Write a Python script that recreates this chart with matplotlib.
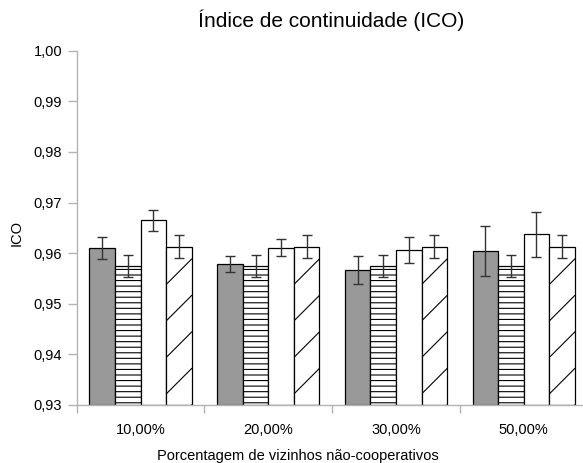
import numpy as np
import matplotlib
matplotlib.use("Agg")
import matplotlib.pyplot as plt

plt.rcParams['font.family'] = ['Liberation Sans', 'DejaVu Sans']
plt.rcParams['hatch.linewidth'] = 0.8

### data

grupos = ["10,00%", "20,00%", "30,00%", "50,00%"]

serie_cinza = [0.9610, 0.9578, 0.9567, 0.9604]
erro_cinza = [0.0022, 0.0016, 0.0028, 0.0050]

serie_horiz = [0.9575, 0.9575, 0.9575, 0.9575]
erro_horiz = [0.0022, 0.0022, 0.0022, 0.0022]

serie_branca = [0.9665, 0.9611, 0.9606, 0.9637]
erro_branca = [0.0021, 0.0016, 0.0026, 0.0045]

serie_diag = [0.9613, 0.9613, 0.9613, 0.9613]
erro_diag = [0.0022, 0.0022, 0.0022, 0.0022]

y_ticks = [0.93, 0.94, 0.95, 0.96, 0.97, 0.98, 0.99, 1.00]

### figure

fig = plt.figure(figsize=(5.83, 4.63), dpi=100)
ax = fig.add_axes([0.1316, 0.1253, 0.8762, 0.7652])

ymin, ymax = 0.93, 1.00
x = np.arange(len(grupos))
w = 0.2

series = [
    (serie_cinza, erro_cinza, dict(color='#999999')),
    (serie_horiz, erro_horiz, dict(color='white', hatch='---')),
    (serie_branca, erro_branca, dict(color='white')),
    (serie_diag, erro_diag, dict(color='white')),
]

bars = []
for i, (vals, errs, estilo) in enumerate(series):
    pos = x + (i - 1.5) * w
    alturas = np.array(vals) - ymin
    b = ax.bar(pos, alturas, w, bottom=ymin, edgecolor='black',
               linewidth=0.9, zorder=2, **estilo)
    ax.errorbar(pos, vals, yerr=errs, fmt='none', ecolor='#333333',
                elinewidth=1.0, capsize=3.5, capthick=1.0, zorder=3)
    bars.append(b)

ax.set_xlim(-0.5, len(grupos) - 0.5)
ax.set_ylim(ymin, ymax)

# sparse diagonal hatch (built from the bar geometry)
passo = 36.5
inv = ax.transData.inverted()
for r in bars[3]:
    x0, y0 = ax.transData.transform((r.get_x(), r.get_y()))
    x1, y1 = ax.transData.transform((r.get_x() + r.get_width(),
                                     r.get_y() + r.get_height()))
    larg = x1 - x0
    k = 0
    while y0 + k * passo - larg < y1:
        p = inv.transform([(x0, y0 + k * passo - larg), (x1, y0 + k * passo)])
        ln, = ax.plot(p[:, 0], p[:, 1], color='black', lw=0.8, zorder=2.5)
        ln.set_clip_path(r)
        k += 1

ax.set_ylim(ymin, ymax)
ax.set_xlim(-0.5, len(grupos) - 0.5)

ax.set_yticks(y_ticks)
ax.set_yticklabels([("%.2f" % v).replace('.', ',') for v in y_ticks])
ax.set_xticks(x)
ax.set_xticklabels(grupos)
ax.set_xticks(np.arange(len(grupos) + 1) - 0.5, minor=True)

ax.tick_params(axis='x', which='major', length=0, pad=13, labelsize=10.5)
ax.tick_params(axis='x', which='minor', length=5.5, color='#b3b3b3', width=1)
ax.tick_params(axis='y', length=6.5, color='#b3b3b3', width=1, pad=4,
               labelsize=10.5)

for s in ['top', 'right']:
    ax.spines[s].set_visible(False)
for s in ['left', 'bottom']:
    ax.spines[s].set_color('#b3b3b3')
    ax.spines[s].set_linewidth(1)

ax.set_ylabel("ICO", fontsize=10.5)
ax.yaxis.set_label_coords(-0.103, 0.485)
ax.set_xlabel("Porcentagem de vizinhos não-cooperativos", fontsize=10.5)
ax.xaxis.set_label_coords(0.4327, -0.125)

fig.text(331 / 583, 1 - 20 / 463, "Índice de continuidade (ICO)",
         ha='center', va='center', fontsize=15)

fig.savefig("out.png", dpi=100)
